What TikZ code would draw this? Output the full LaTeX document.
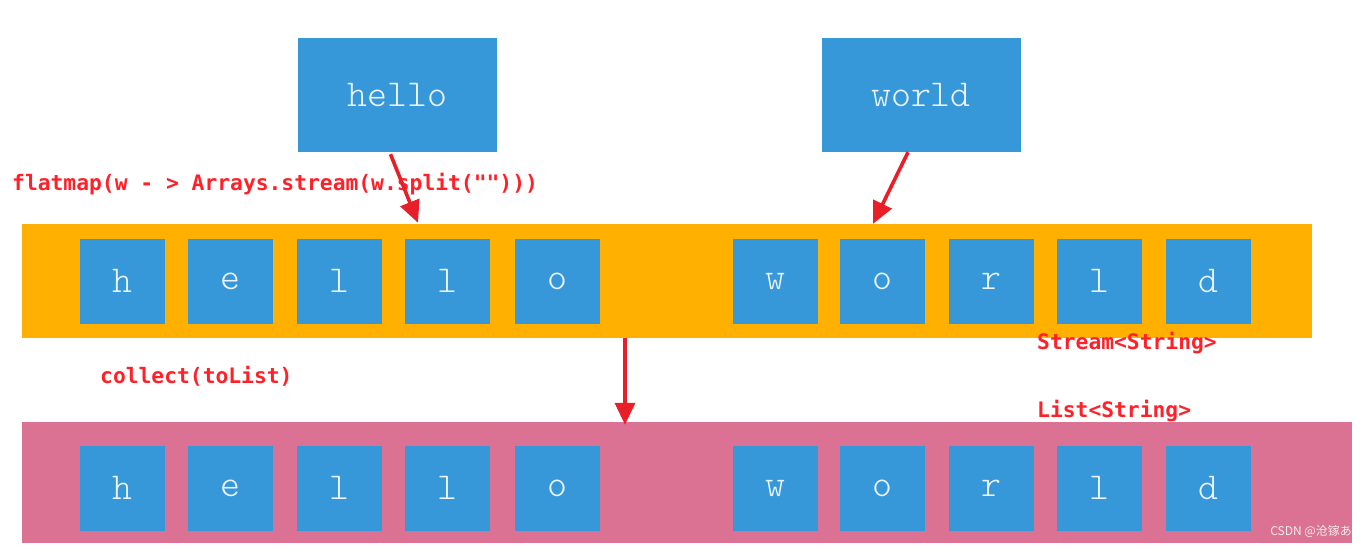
\documentclass[tikz,border=0pt]{standalone}
\usepackage{fontspec}
\newfontfamily\codefont{DejaVu Sans Mono}
\newfontfamily\lightmono{Latin Modern Mono Light}
\newfontfamily\cjk{Noto Sans CJK SC}
\usetikzlibrary{arrows.meta,calc}
\definecolor{boxblue}{RGB}{54,152,217}
\definecolor{barorange}{RGB}{255,176,0}
\definecolor{barpink}{RGB}{219,113,147}
\definecolor{txtred}{RGB}{255,32,40}
\definecolor{arrred}{RGB}{232,30,40}
\definecolor{lettercol}{RGB}{235,244,252}
\tikzset{
  bigbox/.style={fill=boxblue, minimum width=199pt, minimum height=114pt, inner sep=0pt,
    text=lettercol, font=\lightmono\fontsize{38}{38}\selectfont},
  cellbox/.style={fill=boxblue, minimum width=85pt, minimum height=85pt, inner sep=0pt,
    text=lettercol, font=\lightmono\fontsize{38}{38}\selectfont},
  redlabel/.style={text=txtred, font=\codefont\bfseries\fontsize{21.3}{21.3}\selectfont, anchor=west, inner sep=0pt},
  redarrow/.style={draw=arrred, line width=3.6pt, -{Triangle[width=20pt,length=22pt]}},
}
\begin{document}
\begin{tikzpicture}[x=1pt,y=-1pt]
\useasboundingbox (0,0) rectangle (1371,550);
% bars
\node[fill=barorange, minimum width=1290pt, minimum height=114pt, inner sep=0pt] (sbar) at (667,281) {};
\node[fill=barpink, minimum width=1330pt, minimum height=121pt, inner sep=0pt] (lbar) at (687,482.5) {};
% top words
\node[bigbox] (hello) at (397.5,95) {hello};
\node[bigbox] (world) at (921,95) {world};
% stream row
\foreach \x/\c/\n in {122/h/s1,230.5/e/s2,339.5/l/s3,447.5/l/s4,557/o/s5,775.5/w/s6,882/o/s7,991/r/s8,1099/l/s9,1208/d/s10}{
  \node[cellbox] (\n) at (\x,281) {\c};
}
% list row
\foreach \x/\c/\n in {122/h/t1,230.5/e/t2,339.5/l/t3,447.5/l/t4,557/o/t5,775.5/w/t6,882/o/t7,991/r/t8,1099/l/t9,1208/d/t10}{
  \node[cellbox] (\n) at (\x,488) {\c};
}
% labels
\node[redlabel] (fm) at (12,184) {flatmap(w - > Arrays.stream(w.split("")))};
\node[redlabel] (cl) at (100,376) {collect(toList)};
\node[redlabel] (ss) at (1037,343) {Stream<String>};
\node[redlabel] (ls) at (1037,411) {List<String>};
% arrows
\draw[redarrow] ($(hello.south)+(-7,2)$) -- ($(sbar.north)+(-249,-1)$);
\draw[redarrow] ($(world.south)+(-13,0)$) -- ($(sbar.north)+(206,0)$);
\draw[redarrow] ($(sbar.south)+(-42,0)$) -- ($(lbar.north)+(-62,3)$);
% watermark
\node[anchor=east, inner sep=0pt, text=white!88!gray, font=\cjk\fontsize{12}{12}\selectfont] (wm) at (1352,531) {CSDN @沧镓あ};
\end{tikzpicture}
\end{document}
